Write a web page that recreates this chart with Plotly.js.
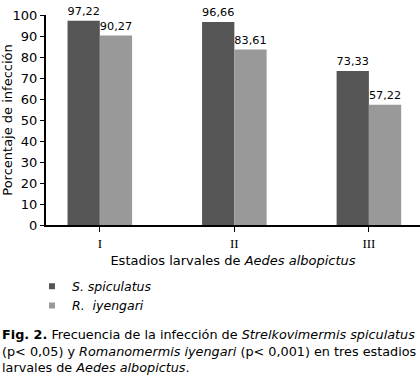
<!DOCTYPE html>
<html>
<head>
<meta charset="utf-8">
<script src="https://cdn.plot.ly/plotly-3.0.1.min.js"></script>
<style>html,body{margin:0;padding:0;background:#fff;}#chart{width:420px;height:385px;}</style>
</head>
<body>
<div id="chart"></div>
<script>
const categories = ["I", "II", "III"];
const seriesNames = ["S. spiculatus", "R.  iyengari"];
const spiculatus = [97.22, 96.66, 73.33];
const iyengari = [90.27, 83.61, 57.22];
const yTicks = [0, 10, 20, 30, 40, 50, 60, 70, 80, 90, 100];
const colors = ["#555555", "#999999"];

const FONT = "DejaVu Sans, Verdana, sans-serif";

function barTrace(vals, color) {
  return {
    type: "bar", x: categories, y: vals,
    marker: {color: color, line: {width: 0}},
    texttemplate: "%{y:.2f}", textposition: "outside",
    textfont: {family: FONT, size: 13, color: "#000"},
    cliponaxis: false, showlegend: false, hoverinfo: "skip"
  };
}
function legendTrace(name, color) {
  return {
    type: "scatter", mode: "markers", x: [null], y: [null], name: "<i>" + name + "</i>",
    marker: {symbol: "square", size: 6, color: color}, showlegend: true
  };
}

const data = [
  barTrace(spiculatus, colors[0]),
  barTrace(iyengari, colors[1]),
  legendTrace(seriesNames[0], colors[0]),
  legendTrace(seriesNames[1], colors[1])
];

const layout = {
  width: 420, height: 385,
  margin: {l: 46, r: 0, t: 15, b: 160, pad: 0},
  paper_bgcolor: "#fff", plot_bgcolor: "#fff",
  separators: ",.",
  font: {family: FONT, size: 13, color: "#000"},
  barmode: "group", bargap: 0.52, bargroupgap: 0,
  xaxis: {
    type: "category", range: [-0.4, 2.38], fixedrange: true,
    showline: true, linecolor: "#000", linewidth: 2,
    ticks: "outside", ticklen: 5, tickwidth: 1, tickcolor: "#000",
    tickfont: {family: "Liberation Serif, Times New Roman, serif", size: 13},
    showgrid: false, zeroline: false,
    title: {text: "Estadios larvales de <i>Aedes albopictus</i>", font: {family: FONT, size: 13}, standoff: 6}
  },
  yaxis: {
    range: [0, 100], tickvals: yTicks, fixedrange: true,
    showline: true, linecolor: "#000", linewidth: 2,
    ticks: "outside", ticklen: 4, tickwidth: 1, tickcolor: "#000",
    tickfont: {family: FONT, size: 13},
    showgrid: false, zeroline: false,
    title: {text: "Porcentaje de infección", font: {family: FONT, size: 13}, standoff: 6}
  },
  showlegend: true,
  legend: {x: -0.0375, y: -0.222, xanchor: "left", yanchor: "top", font: {family: FONT, size: 12.5},
           bgcolor: "rgba(0,0,0,0)", tracegroupgap: 0, itemclick: false, itemdoubleclick: false},
  annotations: [{
    xref: "paper", yref: "paper", x: -0.1233, y: -0.478, xanchor: "left", yanchor: "top",
    align: "left", showarrow: false,
    font: {family: FONT, size: 12.8, color: "#000"},
    text: "<b>Fig. 2.</b> Frecuencia de la infección de <i>Strelkovimermis spiculatus</i><br>(p&lt; 0,05) y <i>Romanomermis iyengari</i> (p&lt; 0,001) en tres estadios<br>larvales de <i>Aedes albopictus</i>."
  }]
};

Plotly.newPlot("chart", data, layout, {staticPlot: true, displayModeBar: false});
</script>
</body>
</html>
